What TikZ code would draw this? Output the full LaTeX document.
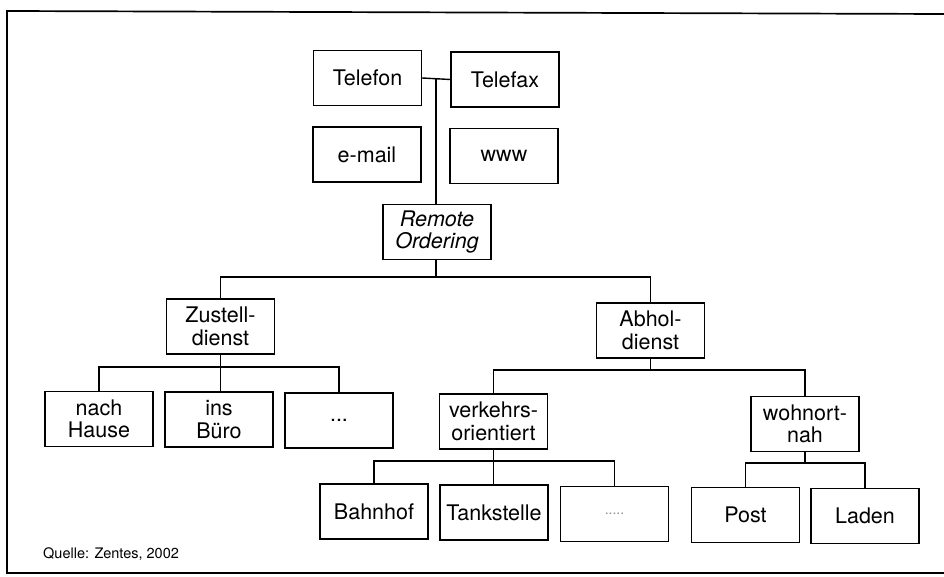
\documentclass[tikz,border=0pt]{standalone}
\usepackage{fontspec}
\setmainfont{TeX Gyre Heros}
\begin{document}
\begin{tikzpicture}[x=1pt,y=-1pt,
  box/.style={draw, line width=1.45pt, rectangle, minimum width=108pt, minimum height=55pt,
    inner sep=0pt, align=center, font=\fontsize{21.5}{22.5}\selectfont},
  conn/.style={line width=1.4pt}]
\useasboundingbox (0,0) rectangle (944,577);
\fill[white] (0,0) rectangle (944,577);
% frame
\draw[line width=1.7pt] (944,14) -- (7,11) -- (7,573) -- (944,573);
% nodes
\node[box] (tel) at (367.5,78) {Telefon};
\node[box] (fax) at (505,79.5) {Telefax};
\node[box] (mail) at (367,154.5) {e-mail};
\node[box] (www) at (504,156) {www};
\node[box] (ro) at (437,232) {\itshape Remote\\\itshape Ordering};
\node[box] (zd) at (220.5,326.5) {Zustell-\\dienst};
\node[box] (ad) at (650.5,330.5) {Abhol-\\dienst};
\node[box] (nh) at (99,419) {nach\\Hause};
\node[box] (ib) at (219,419.5) {ins\\Büro};
\node[box] (d1) at (339,420.5) {...};
\node[box] (vo) at (493.5,421.5) {verkehrs-\\orientiert};
\node[box] (wn) at (805,424) {wohnort-\\nah};
\node[box] (bh) at (374,511.5) {Bahnhof};
\node[box] (ts) at (494,512.5) {Tankstelle};
\node[box] (d2) at (614.5,514) {\textcolor{black!45}{\fontsize{14}{14}\selectfont .....}};
\node[box] (po) at (745.5,515) {Post};
\node[box] (la) at (865,516) {Laden};
\node[anchor=base west, inner sep=0pt, font=\fontsize{14.5}{15}\selectfont] (src) at (43,558) {Quelle: Zentes, 2002};
% connectors
\coordinate (t0) at (436,78.5);
\draw[conn] (tel.east) -- (fax.west);
\draw[conn] (ro.north -| t0) -- (t0);
\coordinate (b1) at (436,277);
\draw[conn] (ro.south -| b1) -- (b1);
\draw[conn] (zd.north) |- (b1) -| (ad.north);
\coordinate (b2) at (220.5,367);
\draw[conn] (zd.south) -- (b2);
\draw[conn] (nh.north) |- (b2) -| (d1.north);
\draw[conn] (b2) -- (ib.north -| b2);
\coordinate (b3) at (650.5,370);
\draw[conn] (ad.south) -- (b3);
\draw[conn] (vo.north) |- (b3) -| (wn.north);
\coordinate (b4) at (493.5,461);
\draw[conn] (vo.south) -- (b4);
\draw[conn] (bh.north) |- (b4) -| (d2.north);
\draw[conn] (b4) -- (ts.north -| b4);
\coordinate (b5) at (805,463);
\draw[conn] (wn.south) -- (b5);
\draw[conn] (po.north) |- (b5) -| (la.north);
\end{tikzpicture}
\end{document}
